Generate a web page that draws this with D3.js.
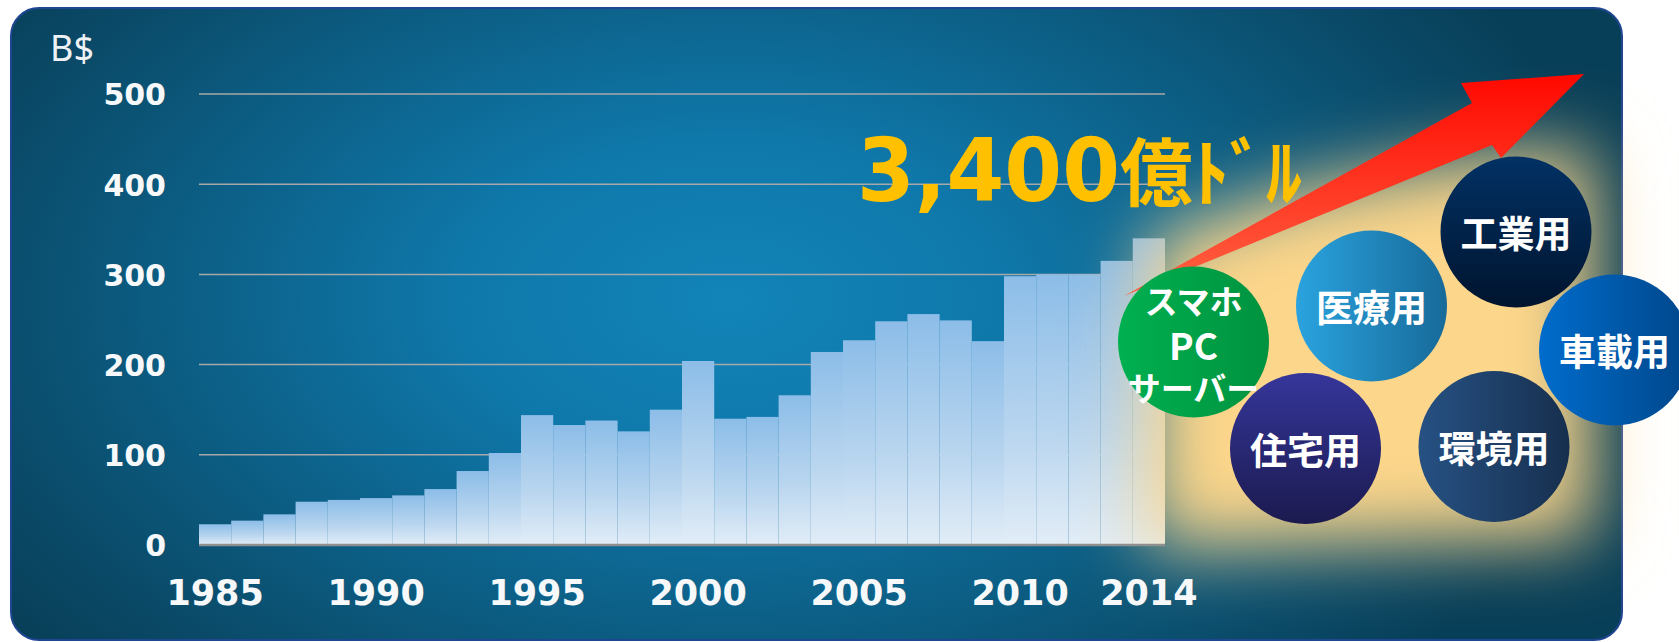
<!DOCTYPE html>
<html>
<head>
<meta charset="utf-8">
<script src="https://cdn.jsdelivr.net/npm/d3@7"></script>
<style>
  body { margin: 0; background: #fff; }
  svg { display: block; }
</style>
</head>
<body>
<div id="chart"></div>
<script>
// semiconductor market, B$ per year
const years = [1985, 1986, 1987, 1988, 1989, 1990, 1991, 1992, 1993, 1994,
  1995, 1996, 1997, 1998, 1999, 2000, 2001, 2002, 2003, 2004,
  2005, 2006, 2007, 2008, 2009, 2010, 2011, 2012, 2013, 2014];
const sales = [23, 27, 34, 48, 50, 52, 55, 62, 82, 102,
  144, 133, 138, 126, 150, 204, 140, 142, 166, 214,
  227, 248, 256, 249, 226, 298, 300, 300, 315, 340];
const yTicks = [0, 100, 200, 300, 400, 500];
const xTickLabels = [1985, 1990, 1995, 2000, 2005, 2010, 2014];
const yUnit = "B$";
const headline = "3,400";
const headlineUnit = "億ﾄﾞﾙ";
const mainUse = ["スマホ", "PC", "サーバー"];
const newUses = ["医療用", "工業用", "車載用", "住宅用", "環境用"];

const W = 1679;
const H = 642;
const margin = { top: 94, right: 514, bottom: 97, left: 199 };

const svg = d3
  .select("#chart")
  .append("svg")
  .attr("width", W)
  .attr("height", H);

const defs = svg.append("defs");

function linGrad(id, stops, vertical) {
  const g = defs
    .append("linearGradient")
    .attr("id", id)
    .attr("x1", 0)
    .attr("y1", 0)
    .attr("x2", vertical ? 0 : 1)
    .attr("y2", vertical ? 1 : 0);
  stops.forEach(([o, c]) =>
    g.append("stop").attr("offset", o).attr("stop-color", c)
  );
}

// panel background
const bg = defs
  .append("radialGradient")
  .attr("id", "bg")
  .attr("gradientUnits", "userSpaceOnUse")
  .attr("cx", 730)
  .attr("cy", 300)
  .attr("r", 900)
  .attr("gradientTransform", "translate(730,300) scale(1,0.6) translate(-730,-300)");
[
  [0, "#1284b8"],
  [0.3, "#0f78aa"],
  [0.6, "#0c5f86"],
  [0.85, "#0a4a68"],
  [1, "#083f58"],
].forEach(([o, c]) => bg.append("stop").attr("offset", o).attr("stop-color", c));

linGrad("bar", [[0, "#8cbde8"], [0.6, "#bad6ef"], [1, "#e2edf7"]], true);
linGrad("arrow", [[0, "#ff0800"], [1, "#ff6444"]], true);

const glowFilter = defs
  .append("filter")
  .attr("id", "glow")
  .attr("x", "-50%")
  .attr("y", "-50%")
  .attr("width", "200%")
  .attr("height", "200%");
glowFilter.append("feGaussianBlur").attr("stdDeviation", 36);

svg
  .append("rect")
  .attr("x", 11)
  .attr("y", 8)
  .attr("width", 1611)
  .attr("height", 632)
  .attr("rx", 28)
  .attr("fill", "url(#bg)")
  .attr("stroke", "#1f4690")
  .attr("stroke-width", 2);

const x = d3
  .scaleBand()
  .domain(years)
  .range([margin.left, W - margin.right])
  .padding(0);

const y = d3
  .scaleLinear()
  .domain([0, 500])
  .range([H - margin.bottom, margin.top]);

// gridlines
svg
  .append("g")
  .selectAll("line")
  .data(yTicks.filter((d) => d > 0))
  .join("line")
  .attr("x1", margin.left)
  .attr("x2", W - margin.right)
  .attr("y1", (d) => y(d))
  .attr("y2", (d) => y(d))
  .attr("stroke", "#a8a8a8")
  .attr("stroke-width", 1.5);

// bars
svg
  .append("g")
  .selectAll("rect")
  .data(years)
  .join("rect")
  .attr("x", (d) => x(d))
  .attr("width", x.bandwidth())
  .attr("y", (d, i) => y(sales[i]))
  .attr("height", (d, i) => y(0) - y(sales[i]))
  .attr("fill", "url(#bar)");

// yellow glow behind the circles
const glowPts = [
  [1148, 240],
  [1300, 188],
  [1450, 160],
  [1592, 148],
  [1592, 538],
  [1148, 548],
];
svg
  .append("path")
  .attr("d", d3.line()(glowPts) + "Z")
  .attr("fill", "#fcd68a")
  .attr("filter", "url(#glow)");

// baseline
svg
  .append("line")
  .attr("x1", margin.left)
  .attr("x2", W - margin.right)
  .attr("y1", y(0))
  .attr("y2", y(0))
  .attr("stroke", "#8f8f8f")
  .attr("stroke-width", 2.5);

// axes
const yAxis = svg
  .append("g")
  .attr("transform", `translate(${margin.left - 33},0)`)
  .call(d3.axisLeft(y).tickValues(yTicks).tickSize(0).tickPadding(0));
yAxis.select(".domain").remove();
yAxis
  .selectAll("text")
  .attr("fill", "#f6f8fa")
  .attr("font-family", "'DejaVu Sans', Verdana, sans-serif")
  .attr("font-weight", "bold")
  .attr("font-size", 30)
  .attr("dy", "0.36em");

const xAxis = svg
  .append("g")
  .attr("transform", `translate(0,${y(0)})`)
  .call(d3.axisBottom(x).tickValues(xTickLabels).tickSize(0).tickPadding(0));
xAxis.select(".domain").remove();
xAxis
  .selectAll("text")
  .attr("fill", "#f6f8fa")
  .attr("font-family", "'DejaVu Sans', Verdana, sans-serif")
  .attr("font-weight", "bold")
  .attr("font-size", 35)
  .attr("dy", null)
  .attr("y", 60);

svg
  .append("text")
  .attr("x", 50)
  .attr("y", 61)
  .attr("fill", "#eef2f6")
  .attr("font-family", "'Noto Sans', sans-serif")
  .attr("font-size", 36)
  .text(yUnit);

// headline
svg
  .append("text")
  .attr("x", 857)
  .attr("y", 201)
  .attr("fill", "#ffc000")
  .attr("font-family", "'DejaVu Sans', Verdana, sans-serif")
  .attr("font-weight", "bold")
  .attr("font-size", 88)
  .attr("textLength", 263)
  .attr("lengthAdjust", "spacingAndGlyphs")
  .text(headline);
svg
  .append("text")
  .attr("x", 1120)
  .attr("y", 200)
  .attr("fill", "#ffc000")
  .attr("font-family", "'Noto Sans CJK JP', sans-serif")
  .attr("font-weight", "bold")
  .attr("font-size", 74)
  .attr("textLength", 182)
  .attr("lengthAdjust", "spacingAndGlyphs")
  .text(headlineUnit);

// growth arrow
const arrowPts = [
  [1124, 296],
  [1472, 103],
  [1461, 83],
  [1584, 74],
  [1501, 158],
  [1492, 145],
];
svg
  .append("path")
  .attr("d", d3.line()(arrowPts) + "Z")
  .attr("fill", "url(#arrow)");

// application circles
const circleR = 75.5;
const circles = [
  { label: mainUse, cx: 1193.5, cy: 342, grad: [["#00b050", "#00923f"], false] },
  { label: [newUses[0]], cx: 1371.5, cy: 306, grad: [["#2aa3df", "#176a99"], false] },
  { label: [newUses[1]], cx: 1516, cy: 232, grad: [["#023164", "#00142e"], true] },
  { label: [newUses[2]], cx: 1614.5, cy: 350, grad: [["#006ccc", "#00468a"], false] },
  { label: [newUses[3]], cx: 1305.5, cy: 448.5, grad: [["#35369a", "#1b1a4f"], true] },
  { label: [newUses[4]], cx: 1494, cy: 446.5, grad: [["#265183", "#172f4e"], false] },
];
circles.forEach((c, i) => {
  linGrad(`c${i}`, [[0, c.grad[0][0]], [1, c.grad[0][1]]], c.grad[1]);
});

svg
  .append("g")
  .selectAll("circle")
  .data(circles)
  .join("circle")
  .attr("cx", (d) => d.cx)
  .attr("cy", (d) => d.cy)
  .attr("r", circleR)
  .attr("fill", (d, i) => `url(#c${i})`);

const labels = svg
  .append("g")
  .attr("fill", "#fff")
  .attr("font-family", "'Noto Sans CJK JP', sans-serif")
  .attr("font-weight", "bold")
  .attr("text-anchor", "middle");

circles.forEach((c) => {
  if (c.label.length === 1) {
    labels
      .append("text")
      .attr("x", c.cx)
      .attr("y", c.cy)
      .attr("dominant-baseline", "central")
      .attr("font-size", 37)
      .text(c.label[0]);
  } else {
    const lineY = [-42, 2, 45];
    c.label.forEach((t, j) => {
      labels
        .append("text")
        .attr("x", c.cx)
        .attr("y", c.cy + lineY[j])
        .attr("dominant-baseline", "central")
        .attr("font-size", j === 1 ? 37 : 33)
        .text(t);
    });
  }
});
</script>
</body>
</html>
